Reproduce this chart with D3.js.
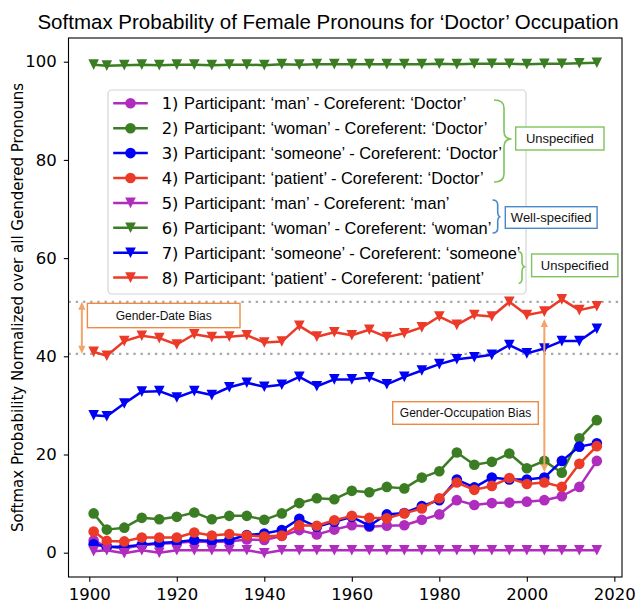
<!DOCTYPE html>
<html><head><meta charset="utf-8">
<script src="https://cdn.jsdelivr.net/npm/d3@7"></script>
<style>body{margin:0;background:#fff}svg{display:block}</style>
</head><body><svg id="c" width="637" height="604"></svg>
<script>
// ---------------- DATA ----------------
const years = [1901,1904,1908,1912,1916,1920,1924,1928,1932,1936,1940,1944,1948,1952,1956,1960,1964,1968,1972,1976,1980,1984,1988,1992,1996,2000,2004,2008,2012,2016];
const manDoctor      = [2.5,1.2,0.9,1.5,1.8,2.0,2.3,2.2,2.3,2.7,2.6,3.4,4.6,3.7,4.7,5.6,5.3,5.5,5.6,6.7,7.8,10.7,9.7,10.1,10.2,10.4,10.7,11.5,13.4,18.7];
const womanDoctor    = [8.0,4.7,5.1,7.1,6.8,7.3,8.2,6.8,7.5,7.5,6.7,8.0,10.1,11.1,10.9,12.6,12.3,13.4,13.1,15.3,16.6,20.4,17.9,18.5,20.2,17.2,18.7,16.3,23.3,27.0];
const someoneDoctor  = [1.7,1.2,1.2,1.6,2.0,2.2,2.6,2.4,2.6,3.6,3.9,4.6,6.9,5.3,6.3,7.3,5.5,7.8,8.1,9.5,10.7,14.9,13.3,15.3,14.9,14.9,15.3,18.7,21.6,22.3];
const patientDoctor  = [4.3,2.4,2.3,3.1,3.1,3.1,4.1,3.5,3.8,3.5,3.3,3.5,5.6,5.5,6.6,7.5,7.1,7.0,8.0,9.0,11.1,14.3,12.8,13.6,15.2,14.0,14.3,13.4,18.1,21.7];
const manMan         = [0.3,0.5,-0.1,0.5,0.0,0.5,0.5,0.5,0.5,0.5,-0.1,0.5,0.5,0.5,0.5,0.5,0.5,0.5,0.5,0.5,0.5,0.5,0.5,0.5,0.5,0.5,0.5,0.5,0.5,0.5];
const womanWoman     = [99.4,99.2,99.3,99.4,99.3,99.4,99.4,99.3,99.4,99.4,99.3,99.5,99.4,99.5,99.5,99.5,99.5,99.5,99.5,99.5,99.6,99.5,99.6,99.6,99.6,99.5,99.6,99.6,99.7,99.8];
const someoneSomeone = [28.0,27.8,30.4,32.8,32.9,31.6,32.9,32.1,33.7,34.6,33.8,34.2,35.8,33.9,35.3,35.3,35.7,34.3,35.8,37.1,38.4,39.4,39.8,40.3,42.3,40.6,41.6,43.1,43.1,45.6];
const patientPatient = [40.9,40.1,43.1,44.2,43.7,42.4,44.5,43.9,44.0,44.3,42.8,43.0,46.2,44.0,44.9,44.3,45.4,43.9,44.7,45.9,48.1,46.4,48.4,48.1,51.1,48.4,49.1,51.6,49.4,50.2];

const seriesLabels = [
  "Participant: \u2018man\u2019 - Coreferent: \u2018Doctor\u2019",
  "Participant: \u2018woman\u2019 - Coreferent: \u2018Doctor\u2019",
  "Participant: \u2018someone\u2019 - Coreferent: \u2018Doctor\u2019",
  "Participant: \u2018patient\u2019 - Coreferent: \u2018Doctor\u2019",
  "Participant: \u2018man\u2019 - Coreferent: \u2018man\u2019",
  "Participant: \u2018woman\u2019 - Coreferent: \u2018woman\u2019",
  "Participant: \u2018someone\u2019 - Coreferent: \u2018someone\u2019",
  "Participant: \u2018patient\u2019 - Coreferent: \u2018patient\u2019"
];
const seriesValues = [manDoctor, womanDoctor, someoneDoctor, patientDoctor, manMan, womanWoman, someoneSomeone, patientPatient];
const seriesMarkers = ["circle","circle","circle","circle","tri","tri","tri","tri"];
const seriesColors = ["#b02cbe","#3b7d23","#0000f5","#eb3a28","#b02cbe","#3b7d23","#0000f5","#eb3a28"];

const xTicks = [1900,1920,1940,1960,1980,2000,2020];
const yTicks = [0,20,40,60,80,100];
const biasLevels = [51.1, 40.5];
const title = "Softmax Probability of Female Pronouns for \u2018Doctor\u2019 Occupation";
const yLabel = "Softmax Probability Normalized over all Gendered Pronouns";
const groupLabels = ["Unspecified","Well-specified","Unspecified"];
const biasLabels = ["Gender-Date Bias","Gender-Occupation Bias"];

// ---------------- LAYOUT ----------------
const svg = d3.select("#c");
const m = {l:68.5, r:622, t:38, b:577};
const x = d3.scaleLinear().domain([1895.25, 2021.75]).range([m.l, m.r]);
const y = d3.scaleLinear().domain([-4.95, 104.83]).range([m.b, m.t]);
const SANS = "'Liberation Sans', Arial, Helvetica, sans-serif";
const DEJ = "'DejaVu Sans', sans-serif";

svg.append("rect").attr("width",637).attr("height",604).attr("fill","#fff");

// title
svg.append("text").attr("x",328).attr("y",29).attr("text-anchor","middle")
  .attr("font-family",SANS).attr("font-size","20.5px").attr("fill","#000").text(title);

// y label
svg.append("text").attr("transform","translate(17.5,307.5) rotate(-90)")
  .attr("text-anchor","middle").attr("dominant-baseline","central")
  .attr("font-family",DEJ).attr("font-size","15px").attr("fill","#000").text(yLabel);

// axes
const xa = svg.append("g").attr("transform",`translate(0,${m.b})`)
  .call(d3.axisBottom(x).tickValues(xTicks).tickFormat(d3.format("d")).tickSize(4.7).tickPadding(7));
const ya = svg.append("g").attr("transform",`translate(${m.l},0)`)
  .call(d3.axisLeft(y).tickValues(yTicks).tickFormat(d3.format("d")).tickSize(4.7).tickPadding(7));
[xa,ya].forEach(g=>{
  g.select(".domain").remove();
  g.selectAll("line").attr("stroke","#000").attr("stroke-width",1.1);
  g.selectAll("text").attr("font-family",DEJ).attr("font-size","16.5px").attr("fill","#000");
});

// dotted bias reference lines
svg.append("g").selectAll("line").data(biasLevels).join("line")
  .attr("x1",m.l).attr("x2",m.r).attr("y1",d=>y(d)).attr("y2",d=>y(d))
  .attr("stroke","#a9a9a9").attr("stroke-width",2.2).attr("stroke-dasharray","2.4,4.8");

// series
const line = d3.line().x((d,i)=>x(years[i])).y(d=>y(d));
const MS = 10.6;
function triPath(s){ return `M${-s/2},${-s/2}L${s/2},${-s/2}L0,${s/2}Z`; }
function drawMarker(g, type, color){
  if(type==="circle") return g.append("circle").attr("r",MS/2).attr("fill",color);
  return g.append("path").attr("d",triPath(MS)).attr("fill",color);
}
seriesValues.forEach((vals,k)=>{
  const g = svg.append("g");
  g.append("path").attr("d",line(vals)).attr("fill","none")
    .attr("stroke",seriesColors[k]).attr("stroke-width",2.5).attr("stroke-linejoin","round");
  vals.forEach((v,i)=>{
    const mg = g.append("g").attr("transform",`translate(${x(years[i])},${y(v)})`);
    drawMarker(mg, seriesMarkers[k], seriesColors[k]);
  });
});

// frame
svg.append("rect").attr("x",m.l).attr("y",m.t).attr("width",m.r-m.l).attr("height",m.b-m.t)
  .attr("fill","none").attr("stroke","#000").attr("stroke-width",1.1);

// legend
const L = {x:108, y:90, w:418, h:204, row0:103.3, step:24.9};
svg.append("rect").attr("x",L.x).attr("y",L.y).attr("width",L.w).attr("height",L.h).attr("rx",4)
  .attr("fill","#fff").attr("fill-opacity",0.85).attr("stroke","#d4d4d4").attr("stroke-width",1.2);
seriesLabels.forEach((lab,k)=>{
  const cy = L.row0 + k*L.step;
  svg.append("line").attr("x1",113.2).attr("x2",147.8).attr("y1",cy).attr("y2",cy)
    .attr("stroke",seriesColors[k]).attr("stroke-width",2.5);
  const mg = svg.append("g").attr("transform",`translate(130.5,${cy})`);
  drawMarker(mg, seriesMarkers[k], seriesColors[k]);
  const t = svg.append("text").attr("y",cy).attr("dominant-baseline","central").attr("fill","#000");
  t.append("tspan").attr("x",161.7).attr("font-family",DEJ).attr("font-size","16.4px").text((k+1)+")");
  t.append("tspan").attr("x",184).attr("font-family",SANS).attr("font-size","16.4px").text(lab);
});

// braces and group boxes
function brace(xa, xb, xt, y0, y1, ym, r, color){
  const p = `M${xa},${y0} Q${xb},${y0} ${xb},${y0+r} L${xb},${ym-r} Q${xb},${ym} ${xt},${ym} Q${xb},${ym} ${xb},${ym+r} L${xb},${y1-r} Q${xb},${y1} ${xa},${y1}`;
  svg.append("path").attr("d",p).attr("fill","none").attr("stroke",color).attr("stroke-width",1.6);
}
function box(x0,y0,x1,y1,text,color,fs){
  svg.append("rect").attr("x",x0).attr("y",y0).attr("width",x1-x0).attr("height",y1-y0)
    .attr("fill","#fff").attr("stroke",color).attr("stroke-width",1.4);
  svg.append("text").attr("x",(x0+x1)/2).attr("y",(y0+y1)/2).attr("text-anchor","middle")
    .attr("dominant-baseline","central").attr("font-family",SANS).attr("font-size",fs+"px")
    .attr("fill","#111").text(text);
}
const GREEN = "#7dc55a", BLUE = "#4a89c9", ORANGE = "#ee8a45", ARROW = "#f2a46a";
brace(494, 504, 511.5, 100, 182, 139, 8, GREEN);
box(515.7,127,604,150, groupLabels[0], GREEN, 13);
brace(492.5, 497.7, 500.5, 200, 233, 216.7, 5, BLUE);
box(505.3,206.7,597.1,228.3, groupLabels[1], BLUE, 13);
brace(518.5, 522, 525.4, 251.7, 283.3, 266.7, 5, GREEN);
box(531.6,254,617.9,276.7, groupLabels[2], GREEN, 13);

// bias arrows
function dblArrow(px, ya, yb, color){
  const hl = 8, hw = 3.6;
  const top = Math.min(ya,yb), bot = Math.max(ya,yb);
  svg.append("line").attr("x1",px).attr("x2",px).attr("y1",top+hl-1).attr("y2",bot-hl+1)
    .attr("stroke",color).attr("stroke-width",2);
  svg.append("path").attr("d",`M${px},${top}L${px-hw},${top+hl}L${px+hw},${top+hl}Z`).attr("fill",color);
  svg.append("path").attr("d",`M${px},${bot}L${px-hw},${bot-hl}L${px+hw},${bot-hl}Z`).attr("fill",color);
}
dblArrow(x(1898.3), y(biasLevels[0]), y(biasLevels[1]), ARROW);
dblArrow(x(2004), y(47.6), y(16.4), ARROW);
box(87.4,303.3,240,327.7, biasLabels[0], ORANGE, 12);
box(392.7,401.7,538.3,424.3, biasLabels[1], ORANGE, 12);
</script>
</body></html>
